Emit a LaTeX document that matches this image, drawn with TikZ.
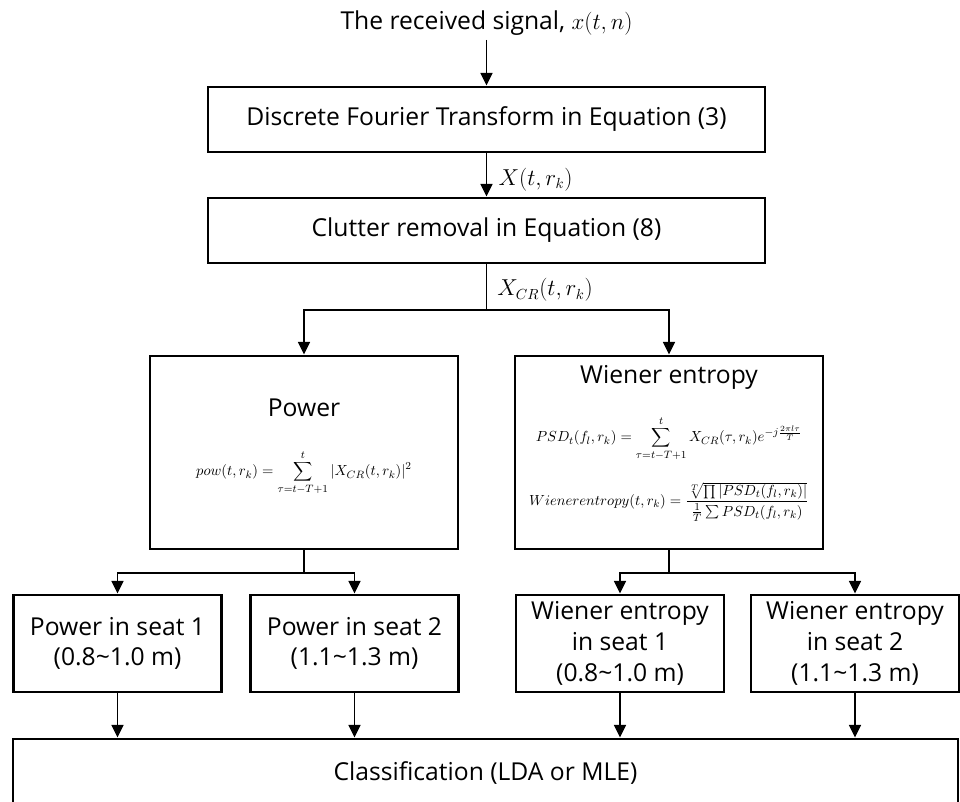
\documentclass[tikz,border=0pt]{standalone}
\usepackage{fontspec}
\setmainfont{Open Sans}
\usetikzlibrary{arrows.meta}
\begin{document}
\begin{tikzpicture}[x=0.75pt,y=-0.75pt,
  box/.style={draw, line width=2.2pt, inner sep=0pt, align=center, font=\fontsize{18.5}{23}\selectfont},
  con/.style={line width=1.1pt},
  arr/.style={con, -{Triangle[width=9pt,length=9.5pt]}},
  txt/.style={inner sep=0pt, font=\fontsize{18.5}{23}\selectfont},
  lbl/.style={inner sep=0pt, anchor=west, font=\fontsize{16}{18}\selectfont},
  eq/.style={inner sep=0pt, font=\fontsize{11.4}{13}\selectfont},
]
\useasboundingbox (0,0) rectangle (960,802);
\clip (0,0) rectangle (960,802);
\node[txt] (top) at (486.5,23) {The received signal, $x(t,n)$};
\node[box, minimum width=417.75pt, minimum height=48.75pt] (dft) at (486.5,119.5) {Discrete Fourier Transform in Equation (3)};
\node[box, minimum width=417.75pt, minimum height=48.75pt] (clut) at (486.5,230.5) {Clutter removal in Equation (8)};
\node[box, minimum width=231pt, minimum height=144.75pt] (pow) at (304,452.5) {};
\node[box, minimum width=231pt, minimum height=144.75pt] (wie) at (669,452.5) {};
\node[txt] (powt) at (304,408) {Power};
\node[eq, font=\fontsize{11}{13}\selectfont] (powe) at (304,473) {$\displaystyle pow(t,r_k)=\sum_{\tau=t-T+1}^{t}|X_{CR}(t,r_k)|^2$};
\node[txt] (wiet) at (669,377) {Wiener entropy};
\node[eq] (psde) at (669,439) {$\displaystyle PSD_t(f_l,r_k)=\sum_{\tau=t-T+1}^{t}X_{CR}(\tau,r_k)e^{-j\frac{2\pi l\tau}{T}}$};
\node[eq] (wee) at (669,502) {$\displaystyle Wienerentropy(t,r_k)=\frac{\sqrt[T]{\prod|PSD_t(f_l,r_k)|}}{\frac{1}{T}\sum PSD_t(f_l,r_k)}$};
\node[box, minimum width=156pt, minimum height=72.75pt] (s1) at (117.5,643.5) {Power in seat 1\\(0.8\textasciitilde 1.0 m)};
\node[box, minimum width=156pt, minimum height=72.75pt] (s2) at (354.5,643.5) {Power in seat 2\\(1.1\textasciitilde 1.3 m)};
\node[box, minimum width=156pt, minimum height=72.75pt] (w1) at (620,643.5) {Wiener entropy\\in seat 1\\(0.8\textasciitilde 1.0 m)};
\node[box, minimum width=156pt, minimum height=72.75pt] (w2) at (855,643.5) {Wiener entropy\\in seat 2\\(1.1\textasciitilde 1.3 m)};
\node[box, minimum width=708.75pt, minimum height=51.75pt] (cls) at (485.5,773.5) {Classification (LDA or MLE)};
\coordinate (split) at (486.5,310);
\coordinate (psplit) at (304,573);
\coordinate (wsplit) at (669,573);
\draw[arr] (top.south |- 0,40) -- (dft.north);
\draw[arr] (dft.south) -- (clut.north) node[lbl, pos=0.6, xshift=8.5pt] (xl) {$X(t,r_k)$};
\draw[con] (clut.south) -- (split);
\node[lbl] (xcrl) at (497,290) {$X_{CR}(t,r_k)$};
\draw[arr] (split) -| (pow.north);
\draw[arr] (split) -| (wie.north);
\draw[con] (pow.south) -- (psplit);
\draw[con] (wie.south) -- (wsplit);
\draw[arr] (psplit) -| (s1.north);
\draw[arr] (psplit) -| (s2.north);
\draw[arr] (wsplit) -| (w1.north);
\draw[arr] (wsplit) -| (w2.north);
\draw[arr] (s1.south) -- (s1.south |- cls.north);
\draw[arr] (s2.south) -- (s2.south |- cls.north);
\draw[arr] (w1.south) -- (w1.south |- cls.north);
\draw[arr] (w2.south) -- (w2.south |- cls.north);
\end{tikzpicture}
\end{document}
